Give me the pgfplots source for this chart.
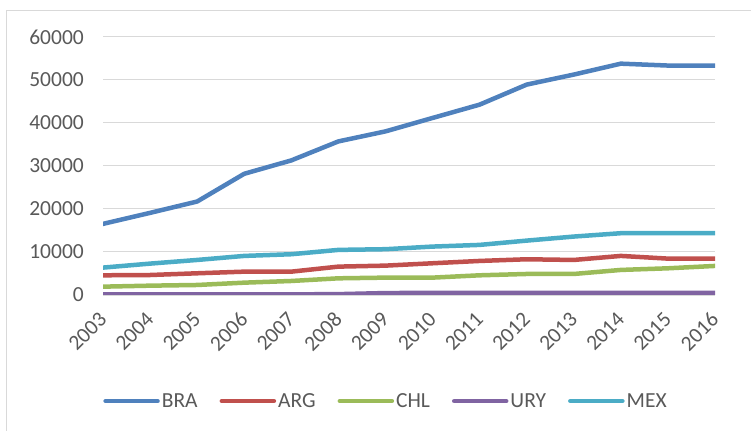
\documentclass[border=0pt]{standalone}
\usepackage{pgfplots}
\pgfplotsset{compat=1.18}
\usepackage{fontspec}
\setmainfont{Carlito}
\definecolor{cBRA}{HTML}{4F81BD}
\definecolor{cARG}{HTML}{C0504D}
\definecolor{cCHL}{HTML}{9BBB59}
\definecolor{cURY}{HTML}{8064A2}
\definecolor{cMEX}{HTML}{4BACC6}
\definecolor{gridc}{HTML}{D9D9D9}
\definecolor{txt}{HTML}{595959}
\begin{document}
\begin{tikzpicture}
\begin{axis}[
  at={(103bp,136bp)}, anchor=south west,
  scale only axis, width=612bp, height=258bp,
  xmin=2003, xmax=2016, ymin=0, ymax=60000,
  xtick={2003,...,2016}, ytick={0,10000,...,60000},
  scaled y ticks=false,
  /pgf/number format/.cd, 1000 sep={}, assume math mode=true, /pgfplots/.cd,
  axis line style={draw=none},
  axis x line*=bottom, axis y line*=left,
  major tick length=0pt,
  ymajorgrids, grid style={gridc, line width=1bp},
  tick label style={font=\fontsize{21.5bp}{25bp}\selectfont, text=txt},
  yticklabel style={inner sep=0pt, anchor=east},
  yticklabel shift=19bp,
  xticklabel style={inner sep=0pt, anchor=east, yshift=-21bp, rotate=45},
  every axis plot/.append style={line width=4.5bp, line cap=round, line join=round},
  legend columns=5,
  legend style={at={(0.4624,-0.411)}, anchor=center, draw=none, fill=none,
    font=\fontsize{21.5bp}{25bp}\selectfont, text=txt,
    /tikz/every even column/.append style={column sep=20bp},
    nodes={inner sep=2bp}},
  legend image code/.code={\draw[#1, line cap=round] (0bp,0bp) -- (52bp,0bp);},
]
\addplot[cBRA] coordinates {(2003,16540)(2004,19100)(2005,21740)(2006,28190)(2007,31300)(2008,35720)(2009,38050)(2010,41170)(2011,44270)(2012,48930)(2013,51260)(2014,53800)(2015,53360)(2016,53360)};
\addlegendentry{BRA}
\addplot[cARG] coordinates {(2003,4580)(2004,4650)(2005,5050)(2006,5430)(2007,5430)(2008,6600)(2009,6830)(2010,7380)(2011,7920)(2012,8310)(2013,8150)(2014,9090)(2015,8460)(2016,8460)};
\addlegendentry{ARG}
\addplot[cCHL] coordinates {(2003,1940)(2004,2170)(2005,2330)(2006,2870)(2007,3260)(2008,3880)(2009,4040)(2010,4040)(2011,4580)(2012,4890)(2013,4890)(2014,5830)(2015,6210)(2016,6760)};
\addlegendentry{CHL}
\addplot[cURY] coordinates {(2003,150)(2004,150)(2005,150)(2006,150)(2007,150)(2008,200)(2009,450)(2010,500)(2011,500)(2012,500)(2013,500)(2014,500)(2015,500)(2016,500)};
\addlegendentry{URY}
\addplot[cMEX] coordinates {(2003,6370)(2004,7300)(2005,8150)(2006,9090)(2007,9480)(2008,10490)(2009,10650)(2010,11260)(2011,11650)(2012,12650)(2013,13590)(2014,14370)(2015,14370)(2016,14370)};
\addlegendentry{MEX}
\end{axis}
\draw[gridc, line width=1bp] (6.5bp,-10bp) -- (6.5bp,420.5bp) -- (770bp,420.5bp);
\pgfresetboundingbox
\path[use as bounding box] (0,0) rectangle (751bp,431bp);
\end{tikzpicture}
\end{document}
